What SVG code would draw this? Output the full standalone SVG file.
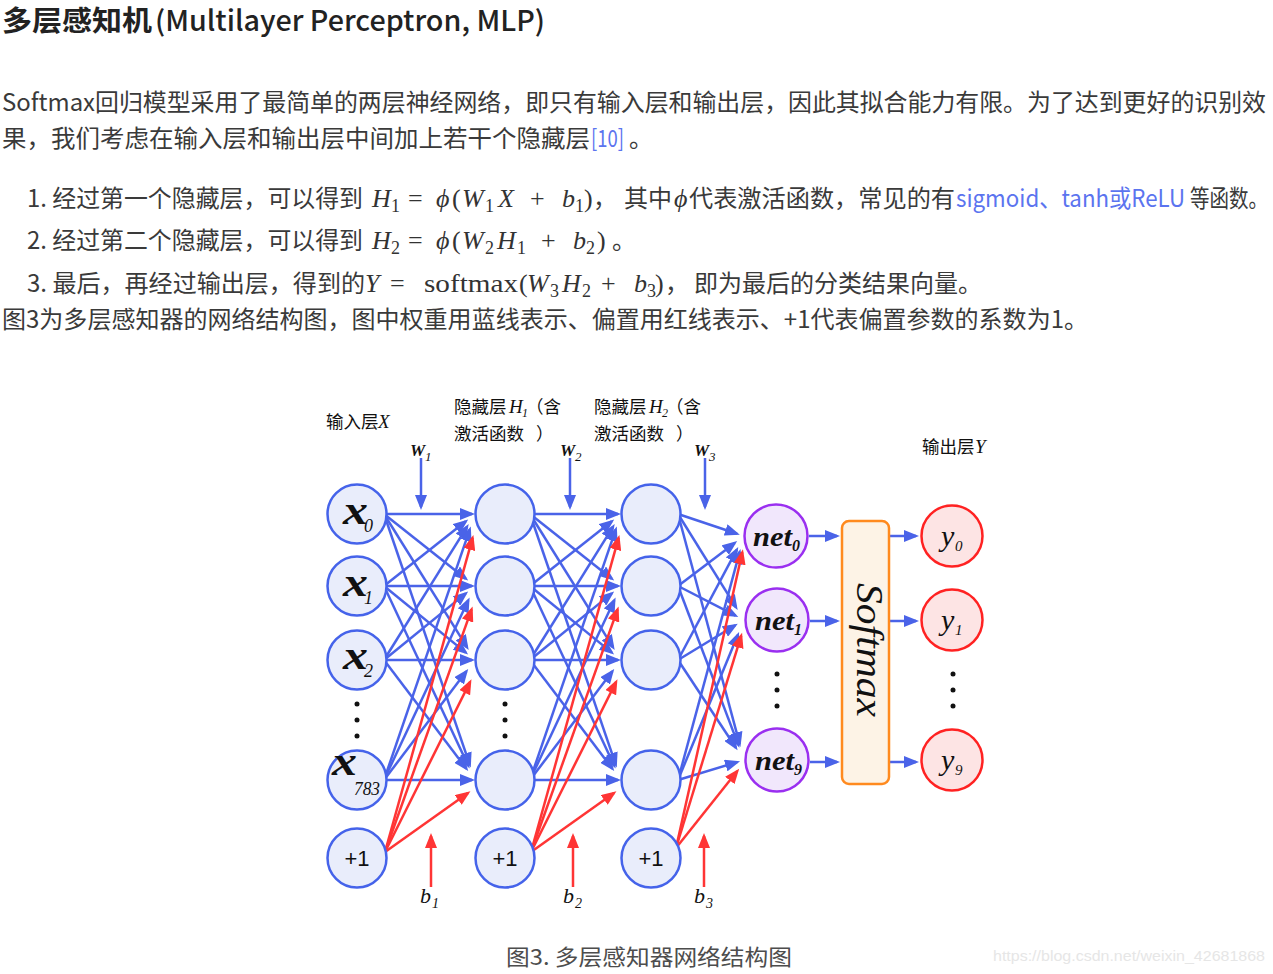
<svg xmlns="http://www.w3.org/2000/svg" width="1273" height="974" viewBox="0 0 1273 974">
<style>
.t{font-family:"Noto Sans CJK SC","Noto Sans",sans-serif;font-size:24px;fill:#3a3a3a}
.lk{fill:#5b74ef}
.m{font-family:"Liberation Serif","DejaVu Serif",serif;font-size:26px;fill:#333;font-style:italic}
.mu{font-family:"Liberation Serif","DejaVu Serif",serif;font-size:26px;fill:#333}
.ms{font-family:"Liberation Serif","DejaVu Serif",serif;font-size:18px;fill:#333}
.lb{font-family:"Noto Sans CJK SC",sans-serif;font-size:17.5px;fill:#111}
.li{font-family:"Liberation Serif",serif;font-style:italic;fill:#111}
.bi{font-family:"Liberation Serif",serif;font-style:italic;font-weight:bold;fill:#111}
.nd{fill:#e9edfb;stroke:#4563ea;stroke-width:2.5}
.nt{fill:#f1e7fc;stroke:#9a2ff0;stroke-width:2.5}
.ot{fill:#fde4e4;stroke:#ff2222;stroke-width:2.5}
.bl{stroke:#4a63e8;stroke-width:2.5;fill:none;marker-end:url(#ab)}
.rd{stroke:#ff3535;stroke-width:2.5;fill:none;marker-end:url(#ar)}
.p1{font-family:"Liberation Sans",Arial,sans-serif;font-size:22px;fill:#111;text-anchor:middle}
.dot{fill:#111}
</style>
<defs>
<marker id="ab" markerUnits="userSpaceOnUse" markerWidth="16" markerHeight="12" refX="12" refY="6" orient="auto"><path d="M0,0 L15,6 L0,12 z" fill="#4a63e8"/></marker>
<marker id="ar" markerUnits="userSpaceOnUse" markerWidth="16" markerHeight="12" refX="12" refY="6" orient="auto"><path d="M0,0 L15,6 L0,12 z" fill="#ff3535"/></marker>
</defs>
<rect width="1273" height="974" fill="#ffffff"/>

<g id="article-text">
<text x="2" y="31" class="t" style="font-size:28px;font-weight:700;fill:#222" textLength="150" lengthAdjust="spacingAndGlyphs">多层感知机</text>
<text x="155" y="31" class="t" style="font-size:28px;font-weight:500;fill:#222" textLength="390" lengthAdjust="spacingAndGlyphs">(Multilayer Perceptron, MLP)</text>
<text x="2" y="111" class="t" textLength="1264" lengthAdjust="spacingAndGlyphs">Softmax回归模型采用了最简单的两层神经网络，即只有输入层和输出层，因此其拟合能力有限。为了达到更好的识别效</text>
<text x="2" y="147" class="t" textLength="588" lengthAdjust="spacingAndGlyphs">果，我们考虑在输入层和输出层中间加上若干个隐藏层</text>
<text x="591" y="147" class="t lk" textLength="33" lengthAdjust="spacingAndGlyphs">[10]</text>
<text x="629" y="147" class="t">。</text>

<text x="27" y="207" class="t" textLength="336" lengthAdjust="spacingAndGlyphs">1. 经过第一个隐藏层，可以得到</text>
<text x="372" y="207" class="m">H</text><text x="391" y="212" class="ms">1</text>
<text x="408" y="207" class="mu">=</text>
<text x="436" y="207" class="m">ϕ</text><text x="452" y="207" class="mu">(</text>
<text x="462" y="207" class="m">W</text><text x="485" y="212" class="ms">1</text>
<text x="498" y="207" class="m">X</text>
<text x="530" y="207" class="mu">+</text>
<text x="562" y="207" class="m">b</text><text x="575" y="212" class="ms">1</text>
<text x="584" y="207" class="mu">)</text>
<text x="593" y="207" class="t">，</text>
<text x="624" y="207" class="t" textLength="48" lengthAdjust="spacingAndGlyphs">其中</text>
<text x="674" y="207" class="m">ϕ</text>
<text x="689" y="207" class="t" textLength="266" lengthAdjust="spacingAndGlyphs">代表激活函数，常见的有</text>
<text x="956" y="207" class="t lk" textLength="229" lengthAdjust="spacingAndGlyphs">sigmoid、tanh或ReLU</text>
<text x="1190" y="207" class="t" textLength="78" lengthAdjust="spacingAndGlyphs">等函数。</text>

<text x="27" y="249" class="t" textLength="336" lengthAdjust="spacingAndGlyphs">2. 经过第二个隐藏层，可以得到</text>
<text x="372" y="249" class="m">H</text><text x="391" y="254" class="ms">2</text>
<text x="408" y="249" class="mu">=</text>
<text x="436" y="249" class="m">ϕ</text><text x="452" y="249" class="mu">(</text>
<text x="462" y="249" class="m">W</text><text x="485" y="254" class="ms">2</text>
<text x="497" y="249" class="m">H</text><text x="517" y="254" class="ms">1</text>
<text x="541" y="249" class="mu">+</text>
<text x="573" y="249" class="m">b</text><text x="586" y="254" class="ms">2</text>
<text x="597" y="249" class="mu">)</text>
<text x="612" y="249" class="t">。</text>

<text x="27" y="292" class="t" textLength="338" lengthAdjust="spacingAndGlyphs">3. 最后，再经过输出层，得到的</text>
<text x="365" y="292" class="m">Y</text>
<text x="390" y="292" class="mu">=</text>
<text x="424" y="292" class="mu" textLength="94" lengthAdjust="spacingAndGlyphs">softmax</text>
<text x="519" y="292" class="mu">(</text>
<text x="527" y="292" class="m">W</text><text x="550" y="297" class="ms">3</text>
<text x="562" y="292" class="m">H</text><text x="582" y="297" class="ms">2</text>
<text x="601" y="292" class="mu">+</text>
<text x="634" y="292" class="m">b</text><text x="647" y="297" class="ms">3</text>
<text x="655" y="292" class="mu">)</text>
<text x="665" y="292" class="t">，</text>
<text x="694" y="292" class="t" textLength="288" lengthAdjust="spacingAndGlyphs">即为最后的分类结果向量。</text>

<text x="2" y="328" class="t" textLength="1086" lengthAdjust="spacingAndGlyphs">图3为多层感知器的网络结构图，图中权重用蓝线表示、偏置用红线表示、+1代表偏置参数的系数为1。</text>
</g>

<g id="layer-labels">
<text x="326" y="428" class="lb">输入层</text><text x="378" y="428" class="li" font-size="19">X</text>
<text x="454" y="413" class="lb">隐藏层</text><text x="509" y="413" class="li" font-size="19">H</text><text x="522" y="417" class="li" font-size="12">1</text><text x="526" y="413" class="lb">（含</text>
<text x="454" y="440" class="lb">激活函数</text><text x="536" y="440" class="lb">）</text>
<text x="594" y="413" class="lb">隐藏层</text><text x="649" y="413" class="li" font-size="19">H</text><text x="662" y="417" class="li" font-size="12">2</text><text x="666" y="413" class="lb">（含</text>
<text x="594" y="440" class="lb">激活函数</text><text x="676" y="440" class="lb">）</text>
<text x="922" y="453" class="lb">输出层</text><text x="975" y="453" class="li" font-size="19">Y</text>
<text x="410" y="456" class="bi" font-size="17">W</text><text x="425" y="461" class="li" font-size="13">1</text>
<text x="560" y="456" class="bi" font-size="17">W</text><text x="575" y="461" class="li" font-size="13">2</text>
<text x="694" y="456" class="bi" font-size="17">W</text><text x="709" y="461" class="li" font-size="13">3</text>
<text x="420" y="903" class="li" font-size="22">b</text><text x="432" y="908" class="li" font-size="14">1</text>
<text x="563" y="903" class="li" font-size="22">b</text><text x="575" y="908" class="li" font-size="14">2</text>
<text x="694" y="903" class="li" font-size="22">b</text><text x="706" y="908" class="li" font-size="14">3</text>
</g>

<g id="connectors">
<path class="bl" d="M421,458 L421,507"/>
<path class="bl" d="M570,458 L570,507"/>
<path class="bl" d="M705,458 L705,507"/>
<path class="rd" d="M431,887 L431,836"/>
<path class="rd" d="M573,887 L573,836"/>
<path class="rd" d="M704,887 L704,836"/>

<path class="bl" d="M384,514 L472,514"/>
<path class="bl" d="M384,514 L465.8,578.7"/>
<path class="bl" d="M384,514 L467.1,647.4"/>
<path class="bl" d="M384,514 L469.8,764.7"/>
<path class="bl" d="M384,586 L465.8,521.3"/>
<path class="bl" d="M384,586 L472,586"/>
<path class="bl" d="M384,586 L465.8,652.6"/>
<path class="bl" d="M384,586 L468.3,765.8"/>
<path class="bl" d="M384,660 L467.1,526.6"/>
<path class="bl" d="M384,660 L465.8,593.4"/>
<path class="bl" d="M384,660 L472,660"/>
<path class="bl" d="M384,660 L466.4,768.7"/>
<path class="bl" d="M384,780 L469.8,529.3"/>
<path class="bl" d="M384,780 L468.3,600.2"/>
<path class="bl" d="M384,780 L466.4,671.3"/>
<path class="bl" d="M384,780 L472,780"/>
<path class="rd" d="M385,852 L472.6,537.9"/>
<path class="rd" d="M385,852 L471.6,609.3"/>
<path class="rd" d="M385,852 L470.1,681.9"/>
<path class="rd" d="M385,852 L468,793"/>

<path class="bl" d="M530,514 L618,514"/>
<path class="bl" d="M530,514 L611.8,578.7"/>
<path class="bl" d="M530,514 L613.1,647.4"/>
<path class="bl" d="M530,514 L615.8,764.7"/>
<path class="bl" d="M530,586 L611.8,521.3"/>
<path class="bl" d="M530,586 L618,586"/>
<path class="bl" d="M530,586 L611.8,652.6"/>
<path class="bl" d="M530,586 L614.3,765.8"/>
<path class="bl" d="M530,660 L613.1,526.6"/>
<path class="bl" d="M530,660 L611.8,593.4"/>
<path class="bl" d="M530,660 L618,660"/>
<path class="bl" d="M530,660 L612.4,768.7"/>
<path class="bl" d="M530,780 L615.8,529.3"/>
<path class="bl" d="M530,780 L614.3,600.2"/>
<path class="bl" d="M530,780 L612.4,671.3"/>
<path class="bl" d="M530,780 L618,780"/>
<path class="rd" d="M531,852 L618.6,537.9"/>
<path class="rd" d="M531,852 L617.6,609.3"/>
<path class="rd" d="M531,852 L616.1,681.9"/>
<path class="rd" d="M531,852 L614,793"/>

<path class="bl" d="M678,514 L737,533.7"/>
<path class="bl" d="M678,514 L736.1,607.4"/>
<path class="bl" d="M678,514 L739.7,744.1"/>
<path class="bl" d="M678,586 L734.8,542.9"/>
<path class="bl" d="M678,586 L735.6,615.7"/>
<path class="bl" d="M678,586 L738.3,744.9"/>
<path class="bl" d="M678,660 L736.8,549.6"/>
<path class="bl" d="M678,660 L735.2,625.3"/>
<path class="bl" d="M678,660 L735.9,747.7"/>
<path class="bl" d="M678,780 L739.7,551.9"/>
<path class="bl" d="M678,780 L737.9,634.7"/>
<path class="bl" d="M678,780 L737.2,762.1"/>
<path class="rd" d="M676,848 L742.3,552.3"/>
<path class="rd" d="M676,848 L741.2,635.7"/>
<path class="rd" d="M676,848 L737.3,771"/>

<path class="bl" d="M809,536 L837,536"/>
<path class="bl" d="M810,621 L837,621"/>
<path class="bl" d="M810,762 L837,762"/>
<path class="bl" d="M890,536 L916,536"/>
<path class="bl" d="M890,621 L916,621"/>
<path class="bl" d="M890,762 L916,762"/>
</g>

<g id="input-layer">
<g id="x0"><circle class="nd" cx="357" cy="514" r="29.5"/><text x="343" y="524" class="bi" font-size="40" textLength="25" lengthAdjust="spacingAndGlyphs">x</text><text x="364" y="532" class="li" font-size="18">0</text></g>
<g id="x1"><circle class="nd" cx="357" cy="586" r="29.5"/><text x="343" y="596" class="bi" font-size="40" textLength="25" lengthAdjust="spacingAndGlyphs">x</text><text x="364" y="604" class="li" font-size="18">1</text></g>
<g id="x2"><circle class="nd" cx="357" cy="660" r="29.5"/><text x="343" y="669" class="bi" font-size="40" textLength="25" lengthAdjust="spacingAndGlyphs">x</text><text x="364" y="677" class="li" font-size="18">2</text></g>
<g id="x-dots"><circle class="dot" cx="357" cy="704" r="2.5"/><circle class="dot" cx="357" cy="720" r="2.5"/><circle class="dot" cx="357" cy="736" r="2.5"/></g>
<g id="x783"><circle class="nd" cx="357" cy="780" r="29.5"/><text x="332" y="775" class="bi" font-size="40" textLength="25" lengthAdjust="spacingAndGlyphs">x</text><text x="354" y="795" class="li" font-size="18" textLength="26" lengthAdjust="spacingAndGlyphs">783</text></g>
<g id="bias1"><circle class="nd" cx="357" cy="858" r="29.5"/><text x="357" y="866" class="p1">+1</text></g>
</g>

<g id="hidden-layer-1">
<g id="h1-0"><circle class="nd" cx="505" cy="514" r="29.5"/></g>
<g id="h1-1"><circle class="nd" cx="505" cy="586" r="29.5"/></g>
<g id="h1-2"><circle class="nd" cx="505" cy="660" r="29.5"/></g>
<g id="h1-dots"><circle class="dot" cx="505" cy="704" r="2.5"/><circle class="dot" cx="505" cy="720" r="2.5"/><circle class="dot" cx="505" cy="736" r="2.5"/></g>
<g id="h1-3"><circle class="nd" cx="505" cy="780" r="29.5"/></g>
<g id="bias2"><circle class="nd" cx="505" cy="858" r="29.5"/><text x="505" y="866" class="p1">+1</text></g>
</g>

<g id="hidden-layer-2">
<g id="h2-0"><circle class="nd" cx="651" cy="514" r="29.5"/></g>
<g id="h2-1"><circle class="nd" cx="651" cy="586" r="29.5"/></g>
<g id="h2-2"><circle class="nd" cx="651" cy="660" r="29.5"/></g>
<g id="h2-3"><circle class="nd" cx="651" cy="780" r="29.5"/></g>
<g id="bias3"><circle class="nd" cx="651" cy="858" r="29.5"/><text x="651" y="866" class="p1">+1</text></g>
</g>

<g id="net-layer">
<g id="net0"><circle class="nt" cx="776" cy="536" r="31.5"/><text x="753" y="546" class="bi" font-size="28" textLength="39" lengthAdjust="spacingAndGlyphs">net</text><text x="792" y="551" class="bi" font-size="16">0</text></g>
<g id="net1"><circle class="nt" cx="777" cy="620" r="31.5"/><text x="755" y="630" class="bi" font-size="28" textLength="39" lengthAdjust="spacingAndGlyphs">net</text><text x="794" y="635" class="bi" font-size="16">1</text></g>
<g id="net-dots"><circle class="dot" cx="777" cy="674" r="2.5"/><circle class="dot" cx="777" cy="690" r="2.5"/><circle class="dot" cx="777" cy="706" r="2.5"/></g>
<g id="net9"><circle class="nt" cx="777" cy="760" r="31.5"/><text x="755" y="770" class="bi" font-size="28" textLength="39" lengthAdjust="spacingAndGlyphs">net</text><text x="794" y="775" class="bi" font-size="16">9</text></g>
</g>

<g id="softmax">
<rect x="842" y="521" width="47" height="263" rx="7" fill="#fdf3e6" stroke="#ff8a1f" stroke-width="2.5"/>
<text transform="translate(857,650) rotate(90)" x="0" y="0" text-anchor="middle" class="li" font-size="38" textLength="134" lengthAdjust="spacingAndGlyphs">Softmax</text>
</g>

<g id="output-layer">
<g id="y0"><circle class="ot" cx="952" cy="536" r="30.5"/><text x="941" y="546" class="li" font-size="30">y</text><text x="955" y="551" class="li" font-size="15">0</text></g>
<g id="y1"><circle class="ot" cx="952" cy="620" r="30.5"/><text x="941" y="630" class="li" font-size="30">y</text><text x="955" y="635" class="li" font-size="15">1</text></g>
<g id="y-dots"><circle class="dot" cx="953" cy="674" r="2.5"/><circle class="dot" cx="953" cy="690" r="2.5"/><circle class="dot" cx="953" cy="706" r="2.5"/></g>
<g id="y9"><circle class="ot" cx="952" cy="760" r="30.5"/><text x="941" y="770" class="li" font-size="30">y</text><text x="955" y="775" class="li" font-size="15">9</text></g>
</g>

<g id="caption">
<text x="506" y="965" class="t" style="font-size:22px;fill:#4d4d4d" textLength="286" lengthAdjust="spacingAndGlyphs">图3. 多层感知器网络结构图</text>
<text x="993" y="961" style="font-family:'Liberation Sans',Arial,sans-serif;font-size:15px;fill:#e6e6e6" textLength="272" lengthAdjust="spacingAndGlyphs">https://blog.csdn.net/weixin_42681868</text>
</g>
</svg>
